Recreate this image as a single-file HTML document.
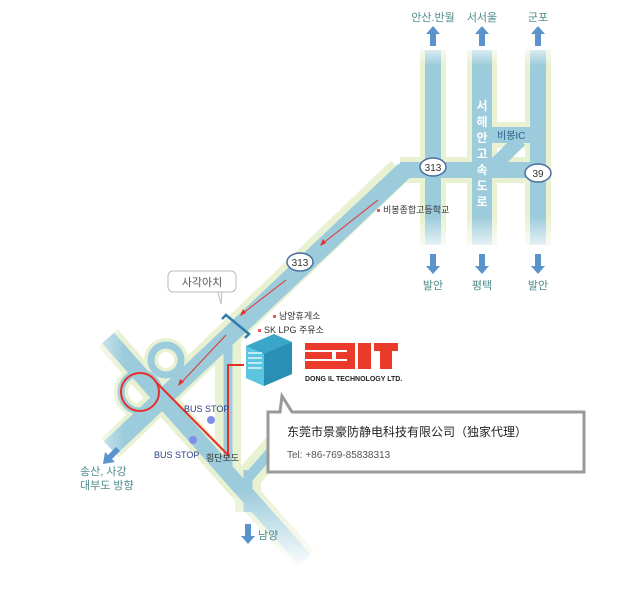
<!DOCTYPE html>
<html><head><meta charset="utf-8"><style>
body{margin:0;background:#fff;width:637px;height:605px;overflow:hidden;font-family:"Liberation Sans","Noto Sans CJK KR",sans-serif}
svg text{font-family:"Liberation Sans","Noto Sans CJK KR",sans-serif}
</style></head><body>
<svg width="637" height="605" viewBox="0 0 637 605">
<defs>
<linearGradient id="fv" x1="0" y1="0" x2="0" y2="1">
<stop offset="0" stop-color="#fff" stop-opacity="1"/><stop offset="0.12" stop-color="#fff" stop-opacity="0"/>
<stop offset="0.82" stop-color="#fff" stop-opacity="0"/><stop offset="1" stop-color="#fff" stop-opacity="1"/></linearGradient>
<linearGradient id="fb" x1="0" y1="0" x2="0" y2="1">
<stop offset="0" stop-color="#fff" stop-opacity="0"/><stop offset="1" stop-color="#fff" stop-opacity="1"/></linearGradient>
<linearGradient id="fl" x1="1" y1="0" x2="0" y2="0">
<stop offset="0" stop-color="#fff" stop-opacity="0"/><stop offset="1" stop-color="#fff" stop-opacity="1"/></linearGradient>
</defs>
<g stroke-linecap="butt" fill="none">
<g stroke="#e8f1d2" stroke-width="26">
<line x1="433" y1="50" x2="433" y2="245"/>
<line x1="538" y1="50" x2="538" y2="245"/>
<line x1="400" y1="170" x2="540" y2="170"/>
<line x1="492" y1="135" x2="535" y2="135"/>
<path d="M400 170 L110 448"/>
<path d="M108 338 L305 560"/>
<line x1="228" y1="330" x2="228" y2="475"/>
<line x1="248" y1="470" x2="248" y2="512"/>
<path d="M248 478 L290 430"/>
</g>
<line x1="482" y1="50" x2="482" y2="245" stroke="#e8f1d2" stroke-width="30"/>
<g stroke="#e8f1d2" stroke-width="14">
<circle cx="140" cy="392" r="19"/>
<circle cx="166" cy="360" r="15"/>
</g>
<g stroke="#9ccbdb" stroke-width="16">
<line x1="433" y1="50" x2="433" y2="245"/>
<line x1="538" y1="50" x2="538" y2="245"/>
<line x1="400" y1="170" x2="540" y2="170"/>
<line x1="492" y1="135" x2="535" y2="135"/>
<path d="M482 178 Q500 160 520 140" stroke-width="14"/>
<path d="M405 170 L110 448" stroke-width="18"/>
<path d="M108 338 L305 560" stroke-width="16"/>
<line x1="228" y1="330" x2="228" y2="475" stroke-width="9"/>
<line x1="248" y1="470" x2="248" y2="512" stroke-width="9"/>
<path d="M248 478 L290 430" stroke-width="10"/>
<circle cx="140" cy="392" r="19" stroke-width="7"/>
<circle cx="166" cy="360" r="15" stroke-width="7"/>
</g>
<line x1="482" y1="50" x2="482" y2="245" stroke="#9ccbdb" stroke-width="20"/>
</g>
<rect x="400" y="40" width="170" height="215" fill="url(#fv)"/>
<rect x="200" y="490" width="130" height="80" fill="url(#fb)"/>
<rect x="85" y="320" width="40" height="140" fill="url(#fl)" opacity="0.8"/>
<g fill="#5b93cc">
<path d="M433 26 l-7 8 h4 v12 h6 v-12 h4z"/>
<path d="M482 26 l-7 8 h4 v12 h6 v-12 h4z"/>
<path d="M538 26 l-7 8 h4 v12 h6 v-12 h4z"/>
<path d="M433 274 l-7 -8 h4 v-12 h6 v12 h4z"/>
<path d="M482 274 l-7 -8 h4 v-12 h6 v12 h4z"/>
<path d="M538 274 l-7 -8 h4 v-12 h6 v12 h4z"/>
<path d="M248 544 l-7 -8 h4 v-12 h6 v12 h4z"/>
<path d="M103 464 l12 -2 l-3 -3 l8 -8 l-4 -4 l-8 8 l-3 -3z"/>
</g>
<g font-size="11" fill="#4e8a8a" text-anchor="middle">
<text x="433" y="21">안산.반월</text><text x="482" y="21">서서울</text><text x="538" y="21">군포</text>
<text x="433" y="289">발안</text><text x="482" y="289">평택</text><text x="538" y="289">발안</text>
</g>
<text x="258" y="539" font-size="11" fill="#4e8a8a">남양</text>
<text x="80" y="475" font-size="11" fill="#4e8a8a">송산, 사강</text>
<text x="80" y="489" font-size="11" fill="#4e8a8a">대부도 방향</text>
<g font-size="12" font-weight="bold" fill="#fff" text-anchor="middle">
<text x="482" y="110">서</text><text x="482" y="126">해</text><text x="482" y="142">안</text><text x="482" y="158">고</text><text x="482" y="174">속</text><text x="482" y="190">도</text><text x="482" y="206">로</text>
</g>
<text x="497" y="139" font-size="10" fill="#2c5f8a">비봉IC</text>
<g fill="#fff" stroke="#4a6fa0" stroke-width="1.5">
<ellipse cx="433" cy="167" rx="13" ry="9"/><ellipse cx="538" cy="173" rx="13" ry="9"/><ellipse cx="300" cy="262" rx="13" ry="9"/>
</g>
<g font-size="10" fill="#333" text-anchor="middle">
<text x="433" y="171">313</text><text x="538" y="177">39</text><text x="300" y="266">313</text>
</g>
<rect x="377" y="209" width="3" height="3" fill="#e55"/>
<text x="383" y="213" font-size="9" fill="#333">비봉종합고등학교</text>
<rect x="273" y="315" width="3" height="3" fill="#e55"/>
<text x="279" y="319" font-size="9" fill="#333">남양휴게소</text>
<rect x="258" y="329" width="3" height="3" fill="#e55"/>
<text x="264" y="333" font-size="9" fill="#333">SK LPG 주유소</text>
<rect x="168" y="271" width="68" height="21" rx="5" fill="#fff" stroke="#bbb"/>
<path d="M218 292 l3 12 l1 -12z" fill="#fff" stroke="#bbb"/>
<text x="202" y="286" font-size="11" fill="#555" text-anchor="middle">사각아치</text>
<path d="M222 319 l4 -4 l23 19 l-4 4" fill="none" stroke="#2f7db0" stroke-width="2.5"/>
<g stroke="#e8302a" fill="none">
<line x1="378" y1="200" x2="322" y2="244" stroke-width="1"/>
<line x1="286" y1="280" x2="242" y2="314" stroke-width="1"/>
<line x1="226" y1="335" x2="180" y2="384" stroke-width="1"/>
<circle cx="140" cy="392" r="19" stroke-width="2"/>
<path d="M155 381 L228 455 V365 H244" stroke-width="2"/>
</g>
<g fill="#e8302a">
<path d="M320 246 l3 -7 l3 4z"/><path d="M240 316 l3 -7 l3 4z"/><path d="M178 386 l2 -7 l4 3z"/>
</g>
<circle cx="211" cy="420" r="4" fill="#7f8fe8"/><circle cx="193" cy="440" r="4" fill="#7f8fe8"/>
<text x="184" y="412" font-size="9" fill="#2b3f8a">BUS STOP</text>
<text x="154" y="458" font-size="9" fill="#2b3f8a">BUS STOP</text>
<text x="206" y="461" font-size="9" fill="#333">횡단보도</text>
<!-- building -->
<path d="M246 346 l28 -12 l18 8 v32 l-28 12 l-18 -8z" fill="#3aa6c8"/>
<path d="M246 346 l18 8 v32 l-18 -8z" fill="#5cc6e0"/>
<path d="M264 354 l28 -12 v32 l-28 12z" fill="#2a8fb5"/>
<g fill="#bfeaf5"><rect x="248" y="352" width="14" height="2"/><rect x="248" y="357" width="14" height="2"/><rect x="248" y="362" width="14" height="2"/><rect x="248" y="367" width="14" height="2"/></g>
<!-- DIT -->
<g fill="#ea3a2a">
<rect x="305" y="343" width="50" height="26"/>
<rect x="358" y="343" width="13" height="26"/>
<rect x="374" y="343" width="24" height="8"/>
<rect x="380" y="351" width="12" height="18"/>
</g>
<g fill="#fff"><rect x="305" y="350" width="42" height="2"/><rect x="305" y="359" width="42" height="2"/><rect x="332" y="352" width="4" height="7"/></g>
<text x="305" y="381" font-size="7" font-weight="bold" fill="#222">DONG IL TECHNOLOGY LTD.</text>
<path d="M268 412 H280 L282 396 L292 412 H584 V472 H268 Z" fill="#fff" stroke="#999" stroke-width="3"/>
<text x="287" y="436" font-size="12" fill="#222" style='font-family:"Liberation Sans","Noto Sans CJK SC",sans-serif'>东莞市景豪防静电科技有限公司（独家代理）</text>
<text x="287" y="458" font-size="10" fill="#555">Tel: +86-769-85838313</text>
</svg>
</body></html>
